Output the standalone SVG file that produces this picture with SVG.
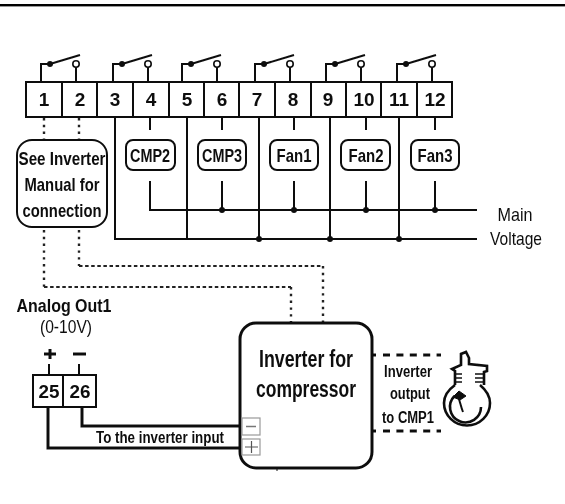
<svg xmlns="http://www.w3.org/2000/svg" width="565" height="504" viewBox="0 0 565 504">
<defs><style>
text{font-family:"Liberation Sans",Arial,sans-serif;fill:#111;text-anchor:middle}
.n{font-size:19px;font-weight:700}
.b{font-weight:700}
.w{fill:none;stroke:#111;stroke-width:2}
.t{fill:none;stroke:#111;stroke-width:3}
.box{fill:#fff;stroke:#111;stroke-width:2}
.d{fill:none;stroke:#222;stroke-width:2.4;stroke-dasharray:2.4 4.4}
.h{fill:none;stroke:#222;stroke-width:1.8;stroke-dasharray:3.5 2.6}
.dd{fill:none;stroke:#111;stroke-width:2.8;stroke-dasharray:7 6.400}
.dot{fill:#111}
.o{fill:#fff;stroke:#111;stroke-width:1.6}
.s{fill:#fff;stroke:#999;stroke-width:1.2}
</style>
<filter id="soft" x="0" y="0" width="100%" height="100%"><feGaussianBlur stdDeviation="0.4"/></filter>
<g id="sw"><path class="w" d="M0 17V0H9"/><circle class="dot" cx="9" cy="0" r="3"/><path class="w" d="M9 0L39-9"/><circle class="o" cx="35" cy="0" r="3.200"/><path class="w" d="M35 3.200V17"/></g>
</defs>
<rect width="565" height="504" fill="#fff"/>
<g filter="url(#soft)">
<rect id="top-rule" x="0" y="4" width="565" height="2.400" fill="#000"/>
<g id="connectors">
<use href="#sw" x="41" y="64"/><use href="#sw" x="113" y="64"/><use href="#sw" x="182" y="64"/><use href="#sw" x="255" y="64"/><use href="#sw" x="326" y="64"/><use href="#sw" x="397" y="64"/>
<path class="w" d="M150 117V130M222 117V130M294 117V130M366 117V130M435 117V130M150 181V210H477M222 181V210M294 181V210M366 181V210M435 181V210"/>
<path class="w" d="M115 117V239H477M187 117V239M259 117V239M330 117V239M399 117V239"/>
<g class="dot"><circle cx="222" cy="210" r="3"/><circle cx="294" cy="210" r="3"/><circle cx="366" cy="210" r="3"/><circle cx="435" cy="210" r="3"/><circle cx="259" cy="239" r="3"/><circle cx="330" cy="239" r="3"/><circle cx="399" cy="239" r="3"/></g>
<path class="d" d="M44 118V140M79 118V140M44 230V287M79 230V266M291 287V322M323 266V323"/>
<path class="h" d="M44 287H291M79 266H323"/>
<path class="dd" d="M383 355H441M383 431H441"/>
<path d="M372 355H376M372 431H376" stroke="#111" stroke-width="2.800"/>
<path class="t" d="M82 407V426H240M48 407V448H240"/>
<path class="w" d="M49 364V375M79 364V375"/>
<path d="M277 468V471" stroke="#111" stroke-width="1"/>
</g>
<g id="terminals-1-12">
<rect class="box" x="26" y="82" width="426" height="35"/>
<path class="w" d="M62 82V117M97 82V117M133 82V117M169 82V117M204 82V117M239 82V117M275 82V117M311 82V117M346 82V117M381 82V117M417 82V117"/>
<text class="n" x="44" y="106">1</text><text class="n" x="80" y="106">2</text><text class="n" x="115" y="106">3</text><text class="n" x="151" y="106">4</text><text class="n" x="187" y="106">5</text><text class="n" x="222" y="106">6</text><text class="n" x="257" y="106">7</text><text class="n" x="293" y="106">8</text><text class="n" x="328" y="106">9</text><text class="n" x="364" y="106">10</text><text class="n" x="399" y="106">11</text><text class="n" x="435" y="106">12</text>
</g>
<g id="see-manual"><rect class="box" x="17" y="140" width="90" height="87" rx="15"/>
<text class="b" font-size="19" x="62" y="165" textLength="87" lengthAdjust="spacingAndGlyphs">See Inverter</text>
<text class="b" font-size="19" x="62" y="191" textLength="75" lengthAdjust="spacingAndGlyphs">Manual for</text>
<text class="b" font-size="19" x="62" y="217" textLength="79" lengthAdjust="spacingAndGlyphs">connection</text></g>
<g id="cmp2"><rect class="box" x="126" y="140" width="49" height="30" rx="7"/><text class="b" font-size="19" x="150" y="162" textLength="40" lengthAdjust="spacingAndGlyphs">CMP2</text></g>
<g id="cmp3"><rect class="box" x="198" y="140" width="48" height="30" rx="7"/><text class="b" font-size="19" x="222" y="162" textLength="40" lengthAdjust="spacingAndGlyphs">CMP3</text></g>
<g id="fan1"><rect class="box" x="270" y="140" width="48" height="30" rx="7"/><text class="b" font-size="19" x="294" y="162" textLength="35" lengthAdjust="spacingAndGlyphs">Fan1</text></g>
<g id="fan2"><rect class="box" x="341" y="140" width="49" height="30" rx="7"/><text class="b" font-size="19" x="366" y="162" textLength="35" lengthAdjust="spacingAndGlyphs">Fan2</text></g>
<g id="fan3"><rect class="box" x="411" y="140" width="48" height="30" rx="7"/><text class="b" font-size="19" x="435" y="162" textLength="35" lengthAdjust="spacingAndGlyphs">Fan3</text></g>
<g id="voltage-label"><text font-size="19" x="515" y="221" textLength="35" lengthAdjust="spacingAndGlyphs">Main</text><text font-size="19" x="516" y="245" textLength="52" lengthAdjust="spacingAndGlyphs">Voltage</text></g>
<g id="analog-out"><text class="b" font-size="19" x="64" y="312" textLength="95" lengthAdjust="spacingAndGlyphs">Analog Out1</text>
<text font-size="18" x="66" y="333" textLength="52" lengthAdjust="spacingAndGlyphs">(0-10V)</text>
<path d="M50 349V359M44 354H56M73 354H86" fill="none" stroke="#111" stroke-width="3"/>
<rect class="box" x="33" y="375" width="63" height="32"/><path class="w" d="M63 375V407"/>
<text class="n" x="49" y="398" textLength="21" lengthAdjust="spacingAndGlyphs">25</text><text class="n" x="80" y="398" textLength="21" lengthAdjust="spacingAndGlyphs">26</text></g>
<text id="input-label" class="b" font-size="17" x="160" y="443" textLength="128" lengthAdjust="spacingAndGlyphs">To the inverter input</text>
<g id="inverter"><rect x="240" y="323" width="132" height="145" rx="16" fill="#fff" stroke="#111" stroke-width="3"/>
<text class="b" font-size="23" x="306" y="367" textLength="94" lengthAdjust="spacingAndGlyphs">Inverter for</text>
<text class="b" font-size="23" x="306" y="397" textLength="100" lengthAdjust="spacingAndGlyphs">compressor</text>
<rect class="s" x="242" y="418" width="18" height="17"/><path d="M246 426.500H256" stroke="#777" stroke-width="1.500"/>
<rect class="s" x="242" y="439" width="18" height="16"/><path d="M245 447H258M251.500 441V453" stroke="#555" stroke-width="1.200"/></g>
<g id="output-label"><text class="b" font-size="16" x="408" y="377" textLength="48" lengthAdjust="spacingAndGlyphs">Inverter</text><text class="b" font-size="16" x="410" y="399" textLength="40" lengthAdjust="spacingAndGlyphs">output</text><text class="b" font-size="16" x="408" y="423" textLength="52" lengthAdjust="spacingAndGlyphs">to CMP1</text></g>
<g id="compressor" fill="none" stroke="#111" stroke-width="2.600">
<path d="M455 385C448 390 444 396 444 403A23 22.500 0 0 0 490 403C490 396 486 390 480 385"/>
<path d="M455 385V371L452 369L461 365V354L466 352L469 358V364L487 366V371L484 372V385"/>
<path d="M455 374H462M455 378H462M455 382H462M475 374H484M475 378H484M475 382H484" stroke-width="1.600"/>
<path d="M454.500 396A15.500 15.500 0 1 0 481 407" stroke-width="2.600"/>
<path d="M458 396C460 402 461 407 463 412" stroke-width="2"/>
<path d="M453 397L459 391L466 396L460 400Z" fill="#111" stroke-width="1"/>
</g>
</g>
</svg>
